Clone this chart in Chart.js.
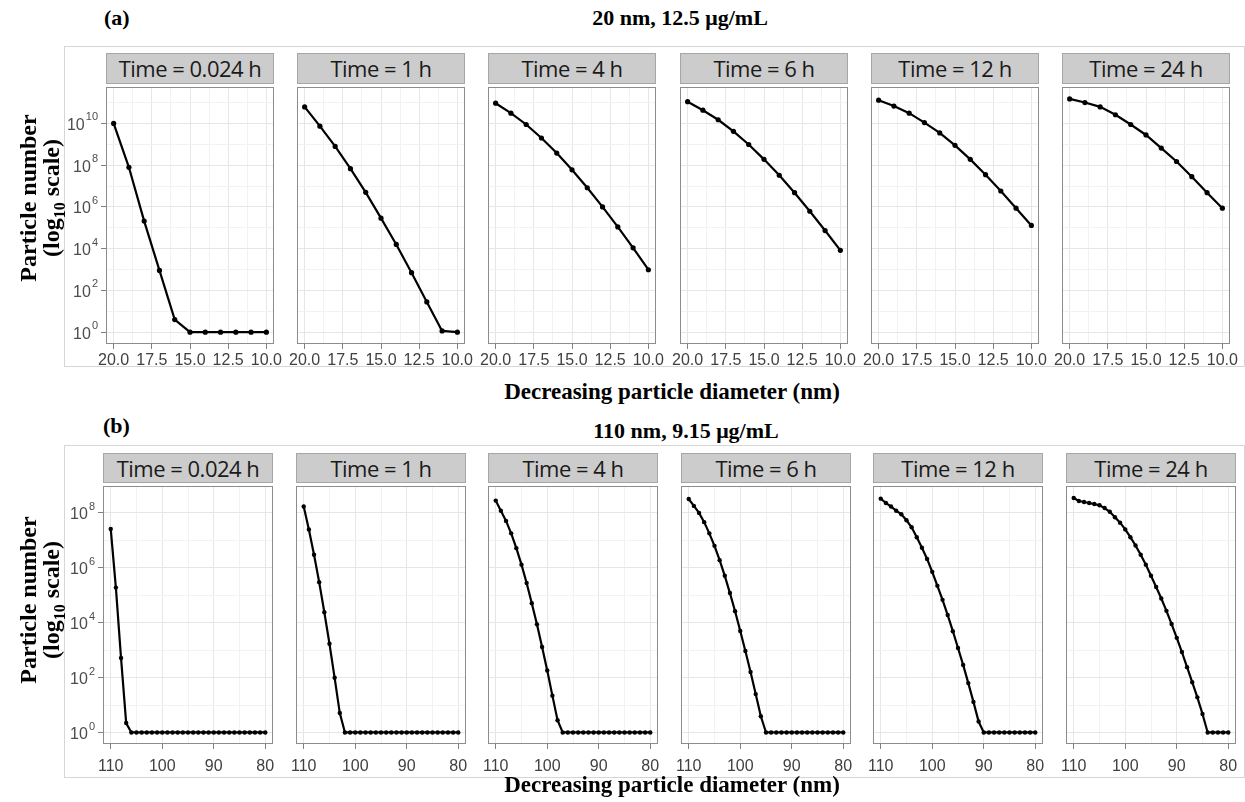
<!DOCTYPE html>
<html>
<head>
<meta charset="utf-8">
<script src="https://cdn.jsdelivr.net/npm/chart.js@4.4.1/dist/chart.umd.min.js"></script>
<style>
    body { margin: 0; background: #fff; }
    #page { position: relative; width: 1245px; height: 802px; overflow: hidden; background: #fff; }
    .rowbox { position: absolute; border: 1px solid #d6d6d6; box-sizing: border-box; }
    .strip { position: absolute; box-sizing: border-box; background: #cccccc; border: 1px solid #a6a6a6;
             font: 22px "Open Sans", "Noto Sans", sans-serif; letter-spacing: -0.5px; color: #1a1a1a; text-align: center; }
    .serif { position: absolute; font-family: "Liberation Serif", "Times New Roman", serif; font-weight: bold; color: #000; white-space: nowrap; }
    .ytitle { position: absolute; transform: rotate(-90deg); transform-origin: center center; text-align: center;
              font: bold 24px "Liberation Serif", serif; line-height: 23px; white-space: nowrap; }
    canvas { position: absolute; }
</style>
</head>
<body>
<div id="page"></div>

<script>
/* ============================================
   DATA
============================================ */

const timeLabels = ["Time = 0.024 h", "Time = 1 h", "Time = 4 h", "Time = 6 h", "Time = 12 h", "Time = 24 h"];

// 20 nm particles, 12.5 µg/mL
const diameter20 = [20, 19, 18, 17, 16, 15, 14, 13, 12, 11, 10];
const n20_t0024 = [1.0e10, 7.9e7, 2.1e5, 9.1e2, 4.0, 1, 1, 1, 1, 1, 1];
const n20_t1 = [6.2e10, 7.4e9, 7.9e8, 6.8e7, 5.0e6, 2.9e5, 1.6e4, 7.1e2, 28, 1.15, 1];
const n20_t4 = [9.3e10, 3.1e10, 8.9e9, 2.0e9, 3.8e8, 6.0e7, 8.3e6, 1.0e6, 1.1e5, 1.1e4, 9.8e2];
const n20_t6 = [1.1e11, 4.3e10, 1.5e10, 4.2e9, 9.8e8, 1.9e8, 3.3e7, 4.8e6, 6.2e5, 7.4e4, 8.3e3];
const n20_t12 = [1.3e11, 6.8e10, 3.1e10, 1.1e10, 3.5e9, 8.9e8, 1.9e8, 3.5e7, 5.8e6, 8.7e5, 1.3e5];
const n20_t24 = [1.5e11, 1.0e11, 6.2e10, 2.6e10, 8.9e9, 2.8e9, 6.6e8, 1.5e8, 2.8e7, 4.8e6, 8.7e5];

// 110 nm particles, 9.15 µg/mL
const diameter110 = [110, 109, 108, 107, 106, 105, 104, 103, 102, 101, 100, 99, 98, 97, 96, 95,
                     94, 93, 92, 91, 90, 89, 88, 87, 86, 85, 84, 83, 82, 81, 80];
const n110_t0024 = [2.6e7, 1.9e5, 5.2e2, 2.2, 1, 1, 1, 1, 1, 1, 1, 1, 1, 1, 1, 1,
                    1, 1, 1, 1, 1, 1, 1, 1, 1, 1, 1, 1, 1, 1, 1];
const n110_t1 = [1.7e8, 2.5e7, 3.0e6, 3.0e5, 2.4e4, 1.7e3, 98, 5.1, 1, 1, 1, 1, 1, 1, 1, 1,
                 1, 1, 1, 1, 1, 1, 1, 1, 1, 1, 1, 1, 1, 1, 1];
const n110_t4 = [2.8e8, 1.2e8, 5.1e7, 1.8e7, 5.2e6, 1.3e6, 2.8e5, 5.1e4, 8.7e3, 1.3e3, 1.8e2, 22, 2.8, 1, 1, 1,
                 1, 1, 1, 1, 1, 1, 1, 1, 1, 1, 1, 1, 1, 1, 1];
const n110_t6 = [3.2e8, 1.8e8, 1.0e8, 4.6e7, 1.8e7, 6.3e6, 1.9e6, 5.1e5, 1.2e5, 2.6e4, 5.0e3, 9.3e2, 1.6e2, 25, 3.9, 1,
                 1, 1, 1, 1, 1, 1, 1, 1, 1, 1, 1, 1, 1, 1, 1];
const n110_t12 = [3.3e8, 2.3e8, 1.7e8, 1.2e8, 8.9e7, 5.4e7, 3.0e7, 1.3e7, 5.4e6, 2.1e6, 7.1e5, 2.2e5, 6.8e4, 1.9e4, 4.9e3, 1.2e3,
                  2.9e2, 63, 13, 2.5, 1, 1, 1, 1, 1, 1, 1, 1, 1, 1, 1];
const n110_t24 = [3.5e8, 2.7e8, 2.5e8, 2.3e8, 2.1e8, 1.9e8, 1.5e8, 1.1e8, 6.9e7, 4.4e7, 2.5e7, 1.3e7, 6.5e6, 3.0e6, 1.3e6, 5.1e5,
                  2.0e5, 7.6e4, 2.7e4, 8.9e3, 2.8e3, 8.5e2, 2.4e2, 68, 19, 4.7, 1, 1, 1, 1, 1];

// axis breaks
const xMajor20 = [20, 17.5, 15, 12.5, 10];
const xMinor20 = [18.75, 16.25, 13.75, 11.25];
const xMajor110 = [110, 100, 90, 80];
const xMinor110 = [105, 95, 85];
const yLabelExp20 = [0, 2, 4, 6, 8, 10];
const yGridExp20 = [0, 1, 2, 3, 4, 5, 6, 7, 8, 9, 10, 11];
const yLabelExp110 = [0, 2, 4, 6, 8];
const yGridExp110 = [0, 1, 2, 3, 4, 5, 6, 7, 8];

/* ============================================
   LAYOUT
============================================ */

const rows = [
    {
        tag: "(a)", title: "20 nm, 12.5 μg/mL",
        x: diameter20, series: [n20_t0024, n20_t1, n20_t4, n20_t6, n20_t12, n20_t24],
        xMajor: xMajor20, xMinor: xMinor20, xMin: 9.5, xMax: 20.5, digits: 1,
        yLabels: yLabelExp20, yGrid: yGridExp20, yLo: -0.566, yHi: 11.745,
        lefts: [106, 297, 488, 680, 871, 1062], panelW: 168,
        stripTop: 53, panelTop: 83, panelH: 261, xPad: 2,
        box: [64, 46, 1181, 321], tagPos: [104, 5], titleY: 5, titleX: 680, xTitleY: 379, yTitleY: 198,
        pointR: 2.6
    },
    {
        tag: "(b)", title: "110 nm, 9.15 μg/mL",
        x: diameter110, series: [n110_t0024, n110_t1, n110_t4, n110_t6, n110_t12, n110_t24],
        xMajor: xMajor110, xMinor: xMinor110, xMin: 78.5, xMax: 111.5, digits: 0,
        yLabels: yLabelExp110, yGrid: yGridExp110, yLo: -0.42, yHi: 8.98,
        lefts: [103, 296, 488, 681, 873, 1066], panelW: 170,
        stripTop: 453, panelTop: 482, panelH: 262, xPad: 8,
        box: [64, 445, 1181, 333], tagPos: [103, 413], titleY: 418, titleX: 686, xTitleY: 772, yTitleY: 600,
        pointR: 2.2
    }
];

const page = document.getElementById("page");

function addDiv(cls, css, html) {
    const d = document.createElement("div");
    d.className = cls;
    Object.assign(d.style, css);
    d.innerHTML = html;
    page.appendChild(d);
    return d;
}

/* ============================================
   Panel border + 10^n labels
============================================ */

const facetDecor = {
    id: "facetDecor",
    afterDraw(chart, args, opts) {
        const { ctx, chartArea: a } = chart;
        ctx.save();
        if (opts.powLabels) {
            const y = chart.scales.y;
            ctx.fillStyle = "#4d4d4d";
            ctx.textAlign = "right";
            ctx.textBaseline = "middle";
            opts.powLabels.forEach(e => {
                const py = y.getPixelForValue(Math.pow(10, e));
                const right = a.left - 8;
                ctx.font = '11px "Liberation Sans", sans-serif';
                const supW = ctx.measureText(String(e)).width;
                ctx.fillText(String(e), right, py - 6);
                ctx.font = '16px "Liberation Sans", sans-serif';
                ctx.fillText("10", right - supW - 1, py + 2);
            });
        }
        ctx.strokeStyle = "#8c8c8c";
        ctx.lineWidth = 1;
        ctx.strokeRect(a.left + 0.5, a.top + 0.5, a.right - a.left - 1, a.bottom - a.top - 1);
        ctx.restore();
    }
};

/* ============================================
   Build one facet
============================================ */

function makeFacet(row, i) {
    const first = i === 0;
    const padL = 14, padR = 14;
    const yW = first ? 50 : 0;
    const xH = 34;
    const left = row.lefts[i];

    const canvas = document.createElement("canvas");
    canvas.width = padL + yW + row.panelW + padR;
    canvas.height = row.panelH + xH;
    canvas.style.left = (left - yW - padL) + "px";
    canvas.style.top = row.panelTop + "px";
    page.appendChild(canvas);

    addDiv("strip", {
        left: left + "px", top: row.stripTop + "px",
        width: row.panelW + "px", height: (row.panelTop - row.stripTop + 1) + "px",
        lineHeight: (row.panelTop - row.stripTop - 1) + "px"
    }, timeLabels[i]);

    const points = row.x.map((d, k) => ({ x: d, y: row.series[i][k] }));
    const isMajorX = v => row.xMajor.some(m => Math.abs(m - v) < 1e-9);
    const isMajorY = v => row.yLabels.some(e => Math.abs(Math.log10(v) - e) < 1e-6);

    new Chart(canvas.getContext("2d"), {
        type: "line",
        data: {
            datasets: [{
                data: points,
                borderColor: "#000",
                borderWidth: 2.2,
                pointRadius: row.pointR,
                pointBackgroundColor: "#000",
                pointBorderWidth: 0,
                tension: 0,
                clip: false
            }]
        },
        options: {
            responsive: false,
            animation: false,
            devicePixelRatio: 1,
            layout: { padding: { left: padL, right: padR, top: 0, bottom: 0 } },
            plugins: {
                legend: { display: false },
                tooltip: { enabled: false },
                facetDecor: { powLabels: first ? row.yLabels : null }
            },
            scales: {
                x: {
                    type: "linear",
                    reverse: true,
                    min: row.xMin,
                    max: row.xMax,
                    afterBuildTicks: s => {
                        s.ticks = row.xMajor.concat(row.xMinor).map(v => ({ value: v }));
                    },
                    afterFit: s => {
                        s.height = xH;
                        s.paddingLeft = 0;
                        s.paddingRight = 0;
                    },
                    border: { display: false },
                    grid: {
                        color: c => isMajorX(c.tick.value) ? "#e6e6e6" : "#f2f2f2",
                        lineWidth: 1,
                        drawTicks: true,
                        tickLength: 5,
                        tickColor: c => isMajorX(c.tick.value) ? "#808080" : "rgba(0,0,0,0)"
                    },
                    ticks: {
                        autoSkip: false,
                        maxRotation: 0,
                        minRotation: 0,
                        padding: row.xPad,
                        color: "#404040",
                        font: { family: "Liberation Sans", size: 16 },
                        callback: v => isMajorX(v) ? v.toFixed(row.digits) : ""
                    }
                },
                y: {
                    type: "logarithmic",
                    min: Math.pow(10, row.yLo),
                    max: Math.pow(10, row.yHi),
                    afterBuildTicks: s => {
                        s.ticks = row.yGrid.map(e => ({ value: Math.pow(10, e) }));
                    },
                    afterFit: s => {
                        s.width = yW;
                        s.paddingTop = 0;
                        s.paddingBottom = 0;
                    },
                    border: { display: false },
                    grid: {
                        color: c => isMajorY(c.tick.value) ? "#e6e6e6" : "#f2f2f2",
                        lineWidth: 1,
                        drawTicks: first,
                        tickLength: 5,
                        tickColor: c => isMajorY(c.tick.value) ? "#808080" : "rgba(0,0,0,0)"
                    },
                    ticks: {
                        display: first,
                        autoSkip: false,
                        color: "rgba(0,0,0,0)",
                        callback: () => ""
                    }
                }
            }
        },
        plugins: [facetDecor]
    });
}

/* ============================================
   INIT
============================================ */

rows.forEach(row => {
    const [bx, by, bw, bh] = row.box;
    addDiv("rowbox", { left: bx + "px", top: by + "px", width: bw + "px", height: bh + "px" }, "");

    addDiv("serif", { left: row.tagPos[0] + "px", top: row.tagPos[1] + "px", fontSize: "22px" }, row.tag);
    addDiv("serif", { left: (row.titleX - 300) + "px", width: "600px", top: row.titleY + "px", fontSize: "22px", textAlign: "center" }, row.title);

    row.lefts.forEach((_, i) => makeFacet(row, i));

    addDiv("serif", { left: "372px", width: "600px", top: row.xTitleY + "px", fontSize: "23px", textAlign: "center" },
        "Decreasing particle diameter (nm)");

    addDiv("ytitle", { left: (41 - 100) + "px", top: (row.yTitleY - 24) + "px", width: "200px", height: "48px" },
        "Particle number<br>(log<sub style=\"font-size:16px;line-height:0\">10</sub> scale)");
});
</script>
</body>
</html>
